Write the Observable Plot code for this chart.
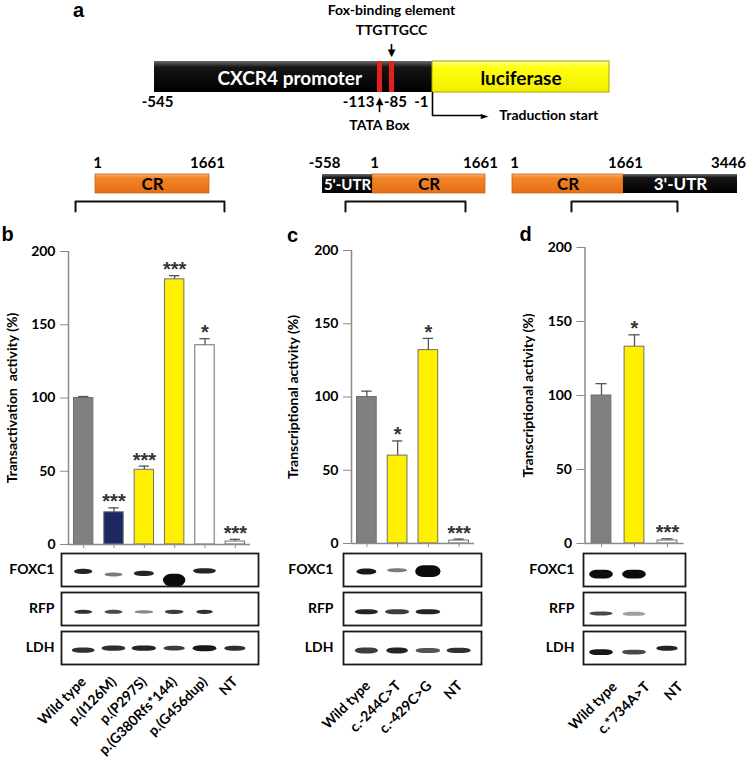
<!DOCTYPE html>
<html><head><meta charset="utf-8">
<script src="https://cdn.jsdelivr.net/npm/d3@7"></script>
<script src="https://cdn.jsdelivr.net/npm/@observablehq/plot@0.6"></script>
<style>
html,body{margin:0;padding:0;background:#fff;}
#fig{position:relative;width:748px;height:761px;overflow:hidden;background:#fff;}
#fig svg{position:absolute;left:0;top:0;}
</style></head><body><div id="fig"></div>
<script>
// ================= DATA =================
// panel a : CXCR4 promoter construct (positions in bp)
const promoterStart = -545, tataPos = -113, foxPos = -85, startPos = -1, luciferaseEnd = 345;
const foxSites = [-113, -85];
const promoterTickPos = [-545, -113, -85, -1];
const promoterTickText = ["-545", "-113", "-85", "-1"];
const tssArrowEnd = 97;

// row 2 : FOXC1 constructs
const c1Segs = [{from: 1, to: 1661, name: "CR"}];
const c2Segs = [{from: -558, to: 1, name: "5'-UTR"}, {from: 1, to: 1661, name: "CR"}];
const c3Segs = [{from: 1, to: 1661, name: "CR"}, {from: 1661, to: 3446, name: "3'-UTR"}];
const c1Ticks = [1, 1661];
const c2Ticks = [-558, 1, 1661];
const c3Ticks = [1, 1661, 3446];
const c1Bracket = [-290, 1879];
const c2Bracket = [-301, 1367];
const c3Bracket = [883, 2506];

// panel b
const bCats = ["Wild type", "p.(I126M)", "p.(P297S)", "p.(G380Rfs*144)", "p.(G456dup)", "NT"];
const bVals = [100, 22, 51, 181, 136, 2];
const bErrs = [1, 3, 2.5, 2.5, 4.5, 1.5];
const bStars = ["", "***", "***", "***", "*", "***"];
const bFills = ["#808080", "#1d2862", "#fff000", "#fff000", "#ffffff", "#ffffff"];
// panel c
const cCats = ["Wild type", "c.-244C>T", "c.-429C>G", "NT"];
const cVals = [100, 60, 132, 2];
const cErrs = [4, 10, 8, 1];
const cStars = ["", "*", "*", "***"];
const cFills = ["#808080", "#fff000", "#fff000", "#ffffff"];
// panel d
const dCats = ["Wild type", "c.*734A>T", "NT"];
const dVals = [100, 133, 2];
const dErrs = [8, 8, 1.2];
const dStars = ["", "*", "***"];
const dFills = ["#808080", "#fff000", "#ffffff"];
const yTicks = [0, 50, 100, 150, 200];

// western blots: rows, and per row per lane: intensity, width (lanes), thickness & drop (row heights)
const blotRows = ["FOXC1", "RFP", "LDH"];
const bBandLevel = [[0.9, 0.55, 0.9, 1, 0.9, 0], [0.85, 0.75, 0.5, 0.8, 0.85, 0], [0.85, 0.85, 0.9, 0.8, 0.95, 0.85]];
const bBandWidth = [[0.6, 0.6, 0.66, 0.74, 0.75, 0], [0.6, 0.6, 0.62, 0.62, 0.55, 0], [0.75, 0.78, 0.8, 0.7, 0.78, 0.7]];
const bBandThick = [[0.16, 0.12, 0.16, 0.38, 0.16, 0], [0.12, 0.12, 0.1, 0.13, 0.13, 0], [0.16, 0.16, 0.16, 0.14, 0.18, 0.15]];
const bBandDrop = [[0.06, 0.15, 0.12, 0.32, 0.04, 0], [0.1, 0.1, 0.1, 0.1, 0.1, 0], [0.08, 0.02, 0.02, 0.02, 0.02, 0.02]];
const cBandLevel = [[0.95, 0.55, 1, 0], [0.9, 0.8, 0.9, 0], [0.8, 0.9, 0.7, 0.85]];
const cBandWidth = [[0.65, 0.65, 0.82, 0], [0.75, 0.78, 0.8, 0], [0.75, 0.7, 0.8, 0.78]];
const cBandThick = [[0.18, 0.12, 0.36, 0], [0.15, 0.15, 0.15, 0], [0.18, 0.18, 0.15, 0.16]];
const cBandDrop = [[0.06, 0.02, 0.05, 0], [0.1, 0.1, 0.1, 0], [0.09, 0.09, 0.09, 0.09]];
const dBandLevel = [[1, 1, 0], [0.75, 0.4, 0], [0.95, 0.75, 0.9]];
const dBandWidth = [[0.72, 0.72, 0], [0.7, 0.7, 0], [0.72, 0.72, 0.65]];
const dBandThick = [[0.27, 0.27, 0], [0.12, 0.12, 0], [0.18, 0.15, 0.15]];
const dBandDrop = [[0.14, 0.14, 0], [0.15, 0.16, 0], [0.14, 0.14, 0.02]];

// ================= DRAWING =================
const W = 748, H = 761;
const svgNS = "http://www.w3.org/2000/svg";
const fig = document.getElementById("fig");
const baseStyle = {background: "transparent", fontFamily: "Lato, 'Open Sans', sans-serif", fontSize: "14px", fontWeight: "bold", color: "#000", overflow: "visible"};
const letterFont = "'Liberation Sans', Arial, sans-serif";
const glyphFont = "'DejaVu Sans', sans-serif";
const MID = {textAnchor: "middle", lineAnchor: "middle"};
function addDefs(svg, inner) {
  const d = document.createElementNS(svgNS, "defs");
  d.innerHTML = inner;
  svg.insertBefore(d, svg.firstChild);
}
function gradDefs(id) {
  return `<linearGradient id="orange${id}" x1="0" y1="0" x2="0" y2="1"><stop offset="0" stop-color="#fbb070"/><stop offset="0.22" stop-color="#f28426"/><stop offset="1" stop-color="#e46f16"/></linearGradient>
  <linearGradient id="black${id}" x1="0" y1="0" x2="0" y2="1"><stop offset="0" stop-color="#6a6a6a"/><stop offset="0.2" stop-color="#151515"/><stop offset="1" stop-color="#000"/></linearGradient>
  <linearGradient id="yellow${id}" x1="0" y1="0" x2="0" y2="1"><stop offset="0" stop-color="#ffff9a"/><stop offset="0.2" stop-color="#ffff10"/><stop offset="1" stop-color="#f2ee00"/></linearGradient>`;
}

// ---- panel a ----
const aY = {foxTop: 1.55, foxShaftEnd: 1.33, foxHead: 1.27, tataTail: -0.65, tataShaftEnd: -0.33, tataHead: -0.27, tss: -0.74};
const aSvg = Plot.plot({
  width: W, height: H, marginTop: 61, marginBottom: H - 92, marginLeft: 154, marginRight: W - 609,
  style: baseStyle,
  x: {type: "linear", domain: [promoterStart, tataPos, foxPos, startPos, luciferaseEnd], range: [154, 379, 391, 432, 609], axis: null},
  y: {domain: [0, 1], axis: null},
  marks: [
    Plot.rect([0], {x1: promoterStart, x2: startPos, y1: 0, y2: 1, fill: "url(#blackA)"}),
    Plot.rect([0], {x1: startPos, x2: luciferaseEnd, y1: 0, y2: 1, fill: "url(#yellowA)", stroke: "#a8a400", strokeWidth: 1}),
    Plot.ruleX(foxSites, {x: d => d, y1: 0, y2: 1, stroke: "#e3201c", strokeWidth: 5}),
    Plot.text(["CXCR4 promoter"], {x: promoterStart, frameAnchor: "middle", textAnchor: "start", lineAnchor: "middle", dx: 63, dy: 2, fill: "white", fontSize: 19, text: d => d}),
    Plot.text(["luciferase"], {x: (startPos + luciferaseEnd) / 2, frameAnchor: "middle", ...MID, dy: 2, fontSize: 19, text: d => d}),
    Plot.text(["Fox-binding element"], {x: foxPos, frameAnchor: "top", ...MID, dy: -51, text: d => d}),
    Plot.text(["TTGTTGCC"], {x: foxPos, frameAnchor: "top", ...MID, dy: -31, text: d => d}),
    Plot.ruleX([foxPos], {x: d => d, y1: aY.foxTop, y2: aY.foxShaftEnd, strokeWidth: 1.6}),
    Plot.text(["▼"], {x: foxPos, y: aY.foxHead, ...MID, fontSize: 10, fontFamily: glyphFont, text: d => d}),
    Plot.ruleX([tataPos], {x: d => d, y1: aY.tataTail, y2: aY.tataShaftEnd, strokeWidth: 1.6}),
    Plot.text(["▲"], {x: tataPos, y: aY.tataHead, ...MID, fontSize: 10, fontFamily: glyphFont, text: d => d}),
    Plot.line([[startPos, 0], [startPos, aY.tss], [tssArrowEnd, aY.tss]], {stroke: "#000", strokeWidth: 1.6}),
    Plot.text(["►"], {x: tssArrowEnd + 4, y: aY.tss, ...MID, fontSize: 10, fontFamily: glyphFont, text: d => d}),
    Plot.text(["Traduction start"], {x: tssArrowEnd + 11, y: aY.tss, textAnchor: "start", lineAnchor: "middle", dx: 11, text: d => d}),
    Plot.text([0], {x: promoterTickPos[0], frameAnchor: "bottom", ...MID, dy: 10, dx: 3, fontSize: 15, text: () => promoterTickText[0]}),
    Plot.text([1], {x: promoterTickPos[1], frameAnchor: "bottom", textAnchor: "end", lineAnchor: "middle", dy: 10, dx: -5, fontSize: 15, text: () => promoterTickText[1]}),
    Plot.text([2], {x: promoterTickPos[2], frameAnchor: "bottom", ...MID, dy: 10, dx: 4, fontSize: 15, text: () => promoterTickText[2]}),
    Plot.text([3], {x: promoterTickPos[3], frameAnchor: "bottom", textAnchor: "end", lineAnchor: "middle", dy: 10, dx: -4, fontSize: 15, text: () => promoterTickText[3]}),
    Plot.text(["TATA Box"], {x: tataPos, frameAnchor: "bottom", ...MID, dy: 33, text: d => d}),
    Plot.text(["a"], {frameAnchor: "top-left", ...MID, dx: -76, dy: -51, fontSize: 20, fontFamily: letterFont, text: d => d})
  ]
});
addDefs(aSvg, gradDefs("A"));
fig.appendChild(aSvg);

// ---- row 2 constructs ----
function constructPanel(id, segs, ticks, range, bracket, endDx) {
  const domain = ticks;
  const lvTop = -0.42, lvLeg = -0.95;
  const pts = [[bracket[0], lvLeg], [bracket[0], lvTop], [bracket[1], lvTop], [bracket[1], lvLeg]];
  const isCR = d => d.name === "CR";
  const svg = Plot.plot({
    width: W, height: H, marginTop: 174, marginBottom: H - 193, marginLeft: range[0], marginRight: W - range[range.length - 1],
    style: baseStyle,
    x: {type: "linear", domain, range, axis: null},
    y: {domain: [0, 1], axis: null},
    marks: [
      Plot.rect(segs.filter(isCR), {x1: "from", x2: "to", y1: 0, y2: 1, fill: `url(#orange${id})`, stroke: "#c8641a", strokeWidth: 0.8}),
      Plot.rect(segs.filter(d => !isCR(d)), {x1: "from", x2: "to", y1: 0, y2: 1, fill: `url(#black${id})`}),
      Plot.text(segs, {x: d => (d.from + d.to) / 2, frameAnchor: "middle", ...MID, dy: 1, text: "name",
        fontSize: d => d.name === "5'-UTR" ? 15 : 17, fill: d => isCR(d) ? "#000" : "#fff"}),
      Plot.text(ticks.slice(0, -1), {x: d => d, frameAnchor: "top", ...MID, dy: -11, dx: 2, fontSize: 15, text: d => String(d)}),
      Plot.text(ticks.slice(-1), {x: d => d, frameAnchor: "top", ...MID, dy: -11, dx: endDx, fontSize: 15, text: d => String(d)}),
      Plot.line(pts, {stroke: "#111", strokeWidth: 2})
    ]
  });
  addDefs(svg, gradDefs(id));
  fig.appendChild(svg);
}
constructPanel("C1", c1Segs, c1Ticks, [95, 209], c1Bracket, -2);
constructPanel("C2", c2Segs, c2Ticks, [322, 372, 485], c2Bracket, -5);
constructPanel("C3", c3Segs, c3Ticks, [512, 623, 737], c3Bracket, -9);

// ---- bar panels ----
function barPanel(o) {
  const idx = d3.range(o.cats.length);
  const svg = Plot.plot({
    width: W, height: H, marginLeft: o.left, marginRight: W - o.right, marginTop: o.top, marginBottom: H - o.bottom,
    style: baseStyle,
    x: {domain: [-0.5, o.cats.length - 0.5], axis: null},
    y: {domain: [0, 200], axis: null},
    color: {type: "identity"},
    marks: [
      Plot.rect(idx, {x1: i => i - o.half, x2: i => i + o.half, y1: 0, y2: i => o.vals[i], fill: i => o.fills[i], stroke: "#6f6f6f", strokeWidth: 1}),
      Plot.ruleX(idx, {x: i => i, y1: i => o.vals[i], y2: i => o.vals[i] + o.errs[i], stroke: "#555", strokeWidth: 1.3}),
      Plot.ruleY(idx, {y: i => o.vals[i] + o.errs[i], x1: i => i - 0.17, x2: i => i + 0.17, stroke: "#555", strokeWidth: 1.3}),
      Plot.ruleX([-0.5], {x: d => d, y1: 0, y2: 200, stroke: "#8a8a8a", strokeWidth: 1.5}),
      Plot.ruleY([0], {stroke: "#8a8a8a", strokeWidth: 1.5}),
      Plot.axisY({ticks: yTicks, tickSize: 8, tickFormat: () => "", stroke: "#8a8a8a", label: null}),
      Plot.axisY({ticks: yTicks, tickSize: 0, tickPadding: 13, label: null, fontSize: 14}),
      Plot.axisX({ticks: idx, tickSize: 4, tickFormat: () => "", stroke: "#8a8a8a", label: null}),
      Plot.axisX({ticks: idx, tickSize: 0, tickPadding: o.labelPad, tickRotate: -45, tickFormat: i => o.cats[i], label: null, dx: o.labelDx, fontSize: 14}),
      Plot.text(idx, {x: i => i, y: i => o.vals[i] + o.errs[i], text: i => o.stars[i], ...MID, dy: -6, fontSize: 20, fontFamily: letterFont, fill: "#333"}),
      Plot.text([o.yLabel], {frameAnchor: "left", ...MID, rotate: -90, dx: o.yLabelDx, text: d => d, fontSize: 14}),
      Plot.text([o.letter], {frameAnchor: "top-left", ...MID, dx: o.letterDx, dy: o.letterDy, fontSize: 20, fontFamily: letterFont, text: d => d})
    ]
  });
  fig.appendChild(svg);
}
barPanel({cats: bCats, vals: bVals, errs: bErrs, stars: bStars, fills: bFills, half: 0.32,
  left: 68, right: 250, top: 251, bottom: 544, labelPad: 135, labelDx: 0,
  yLabel: "Transactivation  activity (%)", yLabelDx: -56, letter: "b", letterDx: -61, letterDy: -17});
barPanel({cats: cCats, vals: cVals, errs: cErrs, stars: cStars, fills: cFills, half: 0.32,
  left: 351, right: 474, top: 250, bottom: 543, labelPad: 140, labelDx: 1,
  yLabel: "Transcriptional activity (%)", yLabelDx: -58, letter: "c", letterDx: -59, letterDy: -15});
barPanel({cats: dCats, vals: dVals, errs: dErrs, stars: dStars, fills: dFills, half: 0.3,
  left: 584.5, right: 683.5, top: 247, bottom: 543, labelPad: 141, labelDx: 13,
  yLabel: "Transcriptional activity (%)", yLabelDx: -56.5, letter: "d", letterDx: -59.5, letterDy: -13});

// ---- western blots ----
function blotPanel(id, n, left, right, level, width, thick, drop, insetL, insetR, labelPad) {
  const bands = [];
  blotRows.forEach((row, r) => {
    for (let i = 0; i < n; i++) if (level[r][i] > 0)
      bands.push({row, i, level: level[r][i], w: width[r][i], h: thick[r][i], d: drop[r][i]});
  });
  const svg = Plot.plot({
    width: W, height: H, marginLeft: left, marginRight: W - right, marginTop: 553, marginBottom: H - 664,
    style: baseStyle,
    x: {domain: [-0.5, n - 0.5], axis: null},
    y: {domain: [-0.5, 0.5], axis: null},
    fy: {domain: blotRows, paddingInner: 0.154, paddingOuter: 0, axis: "left", label: null, tickSize: 0, tickPadding: labelPad},
    marks: [
      Plot.rect(bands, {fy: "row", x1: d => d.i - d.w / 2, x2: d => d.i + d.w / 2, y1: d => -d.d - d.h / 2, y2: d => -d.d + d.h / 2,
        fill: "#0c0c0c", fillOpacity: "level", rx: 8, ariaLabel: "bands"}),
      Plot.frame({stroke: "#1a1a1a", strokeWidth: 1.8, insetLeft: -insetL, insetRight: -insetR})
    ]
  });
  addDefs(svg, `<filter id="blur${id}" x="-50%" y="-150%" width="200%" height="400%"><feGaussianBlur stdDeviation="1.1"/></filter>`);
  d3.select(svg).selectAll('g[aria-label="bands"]').attr("filter", `url(#blur${id})`);
  fig.appendChild(svg);
}
blotPanel("B", 6, 68, 250, bBandLevel, bBandWidth, bBandThick, bBandDrop, 7, 8, 14);
blotPanel("C", 4, 351, 474, cBandLevel, cBandWidth, cBandThick, cBandDrop, 8, 7, 18);
blotPanel("D", 3, 584.5, 683.5, dBandLevel, dBandWidth, dBandThick, dBandDrop, 1.5, 1.5, 10.5);
</script></body></html>
